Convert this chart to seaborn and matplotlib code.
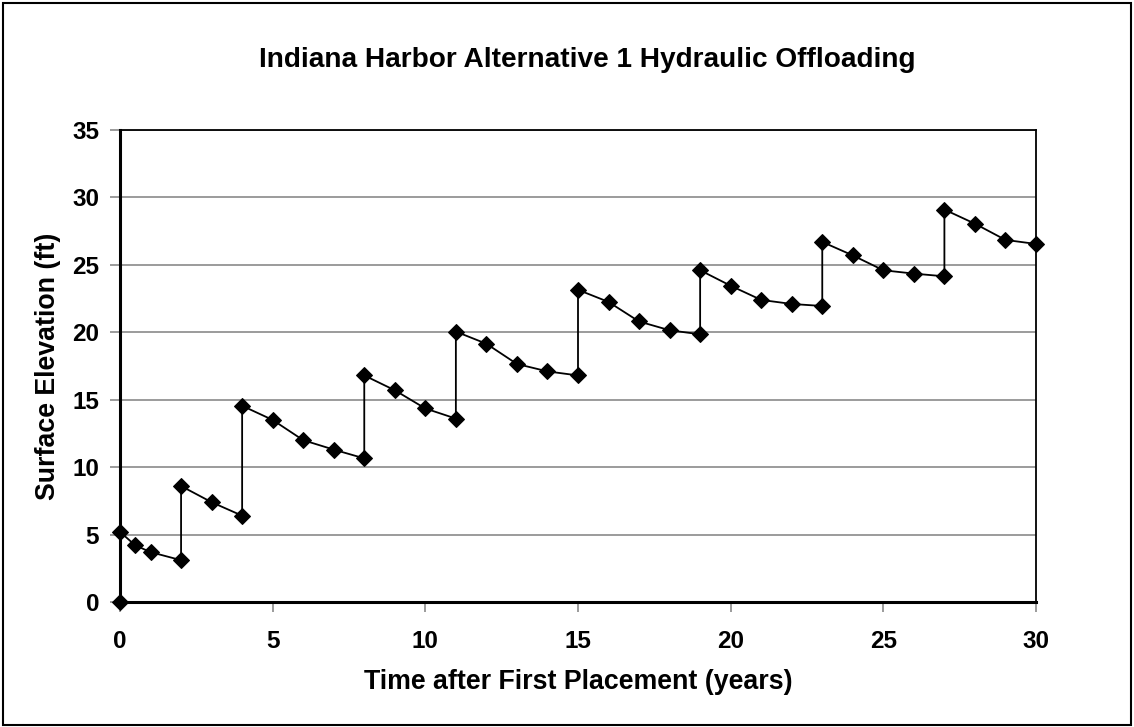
"""
Recreates the Indiana Harbor Alternative 1 hydraulic offloading chart:
surface elevation over time after first placement, saw-tooth pattern
from repeated placements followed by settlement.
"""
import pandas as pd
import seaborn as sns
import matplotlib.pyplot as plt

# time (years) and surface elevation (ft)
years = [0, 0, 0.5, 1, 2, 2, 3, 4, 4, 5, 6, 7, 8, 8, 9, 10, 11, 11,
         12, 13, 14, 15, 15, 16, 17, 18, 19, 19, 20, 21, 22, 23, 23,
         24, 25, 26, 27, 27, 28, 29, 30]
elevation = [0.0, 5.2, 4.2, 3.7, 3.1, 8.6, 7.4, 6.4, 14.55, 13.5, 12.0,
             11.3, 10.65, 16.8, 15.7, 14.35, 13.6, 20.05, 19.15, 17.65,
             17.1, 16.8, 23.15, 22.25, 20.8, 20.15, 19.85, 24.6, 23.45,
             22.4, 22.1, 21.95, 26.7, 25.7, 24.6, 24.35, 24.15, 29.1,
             28.05, 26.85, 26.55]
x_ticks = [0, 5, 10, 15, 20, 25, 30]
y_ticks = [0, 5, 10, 15, 20, 25, 30, 35]

sns.set_style('white')
plt.rcParams['font.family'] = ['Liberation Sans', 'DejaVu Sans']
plt.rcParams['font.weight'] = 'bold'
plt.rcParams['text.color'] = 'black'
plt.rcParams['axes.labelcolor'] = 'black'
plt.rcParams['xtick.labelcolor'] = 'black'
plt.rcParams['ytick.labelcolor'] = 'black'

df = pd.DataFrame({'Years': years, 'Elevation': elevation})

fig = plt.figure(figsize=(11.34, 7.27), dpi=100)
ax = fig.add_axes([120 / 1134, 1 - 602 / 727, 916 / 1134, 472 / 727])

sns.lineplot(data=df, x='Years', y='Elevation', sort=False,
             estimator=None, color='black', linewidth=1.3, marker='D',
             markersize=8, markeredgecolor='black', ax=ax, clip_on=False,
             zorder=3)

ax.set_xlim(0, 30)
ax.set_ylim(0, 35)
ax.set_xticks(x_ticks)
ax.set_yticks(y_ticks)
ax.grid(axis='y', color='#808080', linewidth=1.1)
ax.set_axisbelow(True)
for side in ['top', 'right', 'left', 'bottom']:
    ax.spines[side].set_visible(True)
    ax.spines[side].set_color('black')
    ax.spines[side].set_linewidth(1.3)
ax.spines['left'].set_linewidth(2.2)
ax.spines['bottom'].set_linewidth(2.2)
ax.tick_params(axis='both', direction='out', length=7, width=1.1,
               color='#808080', labelsize=17.5, left=True, bottom=True)
ax.tick_params(axis='x', pad=13)
ax.tick_params(axis='y', pad=8)
for lbl in ax.get_xticklabels() + ax.get_yticklabels():
    lbl.set_fontweight('bold')

ax.set_xlabel('Time after First Placement (years)', fontsize=19.3,
              fontweight='bold', labelpad=12)
ax.set_ylabel('Surface Elevation (ft)', fontsize=19.3, fontweight='bold',
              labelpad=8)
fig.text(587 / 1134, 1 - 60 / 727, 'Indiana Harbor Alternative 1 Hydraulic '
         'Offloading', ha='center', va='center', fontsize=20.2,
         fontweight='bold')

# outer chart border
fig.add_artist(plt.Rectangle((3 / 1134, 2 / 727), 1128 / 1134, 722 / 727,
                             transform=fig.transFigure, fill=False,
                             edgecolor='black', linewidth=1.5))

fig.savefig('out.png', dpi=100)
